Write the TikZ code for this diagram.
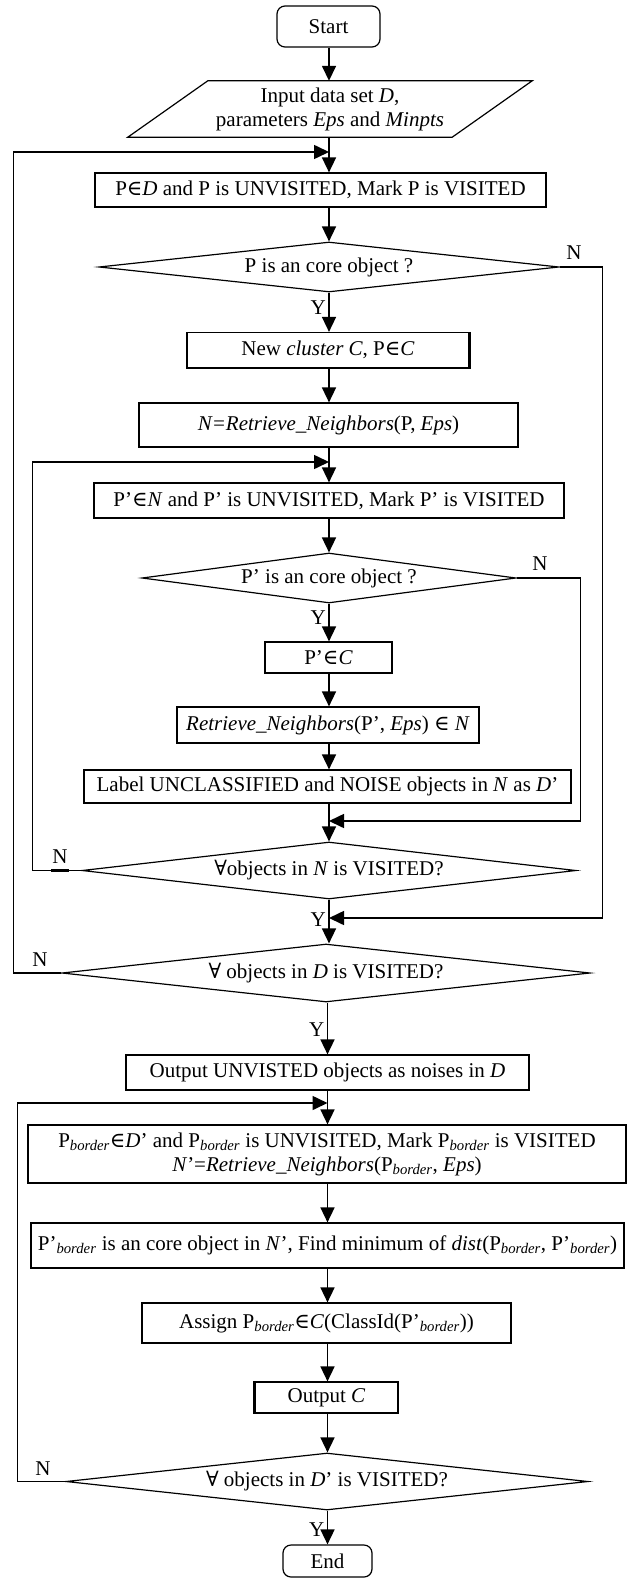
\documentclass[tikz,border=0pt]{standalone}
\usepackage{fontspec}
\setmainfont{Liberation Serif}
\newfontfamily\symf{DejaVu Serif}
\usetikzlibrary{arrows.meta,shapes.geometric,calc}
\newcommand\el{{\symf ∈}}
\newcommand\fa{{\symf ∀}}
\newcommand\pb{\textsubscript{\textit{border}}}
\newcommand\ffs{\fontsize{21}{24}\selectfont}
\begin{document}
\begin{tikzpicture}[x=1pt,y=-1pt,
  box/.style={draw, line width=1.2pt, inner sep=0pt, align=center, font=\ffs},
  term/.style={box, rounded corners=8pt},
  dec/.style={draw, diamond, line width=1.2pt, inner sep=0pt, aspect=9, align=center, font=\ffs},
  lab/.style={font=\ffs, inner sep=1pt},
  arr/.style={-{Triangle[length=15pt,width=14pt]}, line width=1.6pt},
  thick edge/.style={line width=2.6pt},
  ln/.style={line width=1.6pt}]
\useasboundingbox (0,0) rectangle (627,1578);
\coordinate (cx) at (329,0);
\coordinate (cy) at (327.5,0);

\node[term, minimum width=103, minimum height=41] (start) at (328.5,26.5) {Start};
\node[inner sep=0pt, minimum width=324, minimum height=56, align=center, font=\ffs] (inp) at (330,109)
  {Input data set \textit{D},\\parameters \textit{Eps} and \textit{Minpts}};
\draw[line width=1.2pt] ($(inp.south west)+(-40,0)$) -- ($(inp.north west)+(40,0)$)
  -- ($(inp.north east)+(40,0)$) -- ($(inp.south east)+(-40,0)$) -- cycle;
\node[box, minimum width=451, minimum height=34] (b1) at (320.5,190)
  {P\el\textit{D} and P is UNVISITED, Mark P is VISITED};
\node[dec, minimum width=460, minimum height=50] (d1) at (329,267) {P is an core object ?};
\node[box, minimum width=282, minimum height=35] (b2) at (328,350) {New \textit{cluster C}, P\el\textit{C}};
\draw[thick edge] (b2.north east) -- (b2.south east) -- (b2.south west);
\node[box, minimum width=379, minimum height=44] (b3) at (328.5,425)
  {\textit{N=Retrieve\_Neighbors}(P, \textit{Eps})};
\node[box, minimum width=470, minimum height=35] (b4) at (329,500.5)
  {P’\el\textit{N} and P’ is UNVISITED, Mark P’ is VISITED};
\node[dec, minimum width=374, minimum height=50] (d2) at (329,578) {P’ is an core object ?};
\node[box, minimum width=127, minimum height=31] (b5) at (328.5,657.5) {P’\el\textit{C}};
\node[box, minimum width=302, minimum height=36] (b6) at (328,725)
  {\textit{Retrieve\_Neighbors}(P’, \textit{Eps}) \el{} \textit{N}};
\node[box, minimum width=487, minimum height=33] (b7) at (327.5,786.5)
  {Label UNCLASSIFIED and NOISE objects in \textit{N} as \textit{D}’};
\node[dec, minimum width=494, minimum height=57] (d3) at (329,870.5) {\fa objects in \textit{N} is VISITED?};
\node[dec, minimum width=528, minimum height=58] (d4) at (326,973) {\fa{} objects in \textit{D} is VISITED?};
\node[box, minimum width=403, minimum height=35] (b8) at (327.5,1072.5)
  {Output UNVISTED objects as noises in \textit{D}};
\node[box, minimum width=598, minimum height=58] (b9) at (327,1154)
  {P\pb\el\textit{D}’ and P\pb{} is UNVISITED, Mark P\pb{} is VISITED\\
   \textit{N}’=\textit{Retrieve\_Neighbors}(P\pb, \textit{Eps})};
\node[box, minimum width=593, minimum height=45] (b10) at (327.5,1245.5)
  {P’\pb{} is an core object in \textit{N}’, Find minimum of \textit{dist}(P\pb, P’\pb)};
\node[box, minimum width=369, minimum height=40] (b11) at (326.5,1323)
  {Assign P\pb\el\textit{C}(ClassId(P’\pb))};
\node[box, minimum width=143, minimum height=31] (b12) at (326.5,1397.5) {Output \textit{C}};
\draw[thick edge] (b12.north west) -- (b12.south west);
\node[dec, minimum width=522, minimum height=57] (d5) at (327,1481.5) {\fa{} objects in \textit{D}’ is VISITED?};
\node[term, minimum width=89, minimum height=32] (end) at (327.5,1561) {End};

% junction points
\coordinate (j1) at (329,152);
\coordinate (j2) at (329,462);
\coordinate (j3) at (329,918);
\coordinate (j4) at (329,821);
\coordinate (j5) at (327.5,1103);

% main flow
\draw[arr] (start.south -| cx) -- (inp.north -| cx);
\draw[arr] (inp.south -| cx) -- (b1.north -| cx);
\draw[arr] (b1.south -| cx) -- (d1.north);
\draw[arr] (d1.south) -- (b2.north -| cx);
\draw[arr] (b2.south -| cx) -- (b3.north -| cx);
\draw[arr] (b3.south -| cx) -- (b4.north -| cx);
\draw[arr] (b4.south -| cx) -- (d2.north);
\draw[arr] (d2.south) -- (b5.north -| cx);
\draw[arr] (b5.south -| cx) -- (b6.north -| cx);
\draw[arr] (b6.south -| cx) -- (b7.north -| cx);
\draw[arr] (b7.south -| cx) -- (d3.north);
\draw[arr] (d3.south) -- (d4.north -| cx);
\draw[arr] (d4.south -| cy) -- (b8.north -| cy);
\draw[arr] (b8.south -| cy) -- (b9.north -| cy);
\draw[arr] (b9.south -| cy) -- (b10.north -| cy);
\draw[arr] (b10.south -| cy) -- (b11.north -| cy);
\draw[arr] (b11.south -| cy) -- (b12.north -| cy);
\draw[arr] (b12.south -| cy) -- (d5.north -| cy);
\draw[arr] (d5.south -| cy) -- (end.north -| cy);

% loops
\draw[arr] (d1.east) -- ++(43,0) |- (j3);
\draw[arr] (d2.east) -- ++(64,0) |- (j4);
\draw[arr] (d3.west) -- ++(-49,0) |- (j2);
\draw[arr] (d4.west) -- ++(-48,0) |- (j1);
\draw[arr] (d5.west) -- ++(-48,0) |- (j5);

% labels
\node[lab, anchor=east] (y1) at (327,308) {Y};
\node[lab, anchor=east] (y2) at (327,618) {Y};
\node[lab, anchor=east] (y3) at (327,920) {Y};
\node[lab, anchor=east] (y4) at (325.5,1030) {Y};
\node[lab, anchor=east] (y5) at (325.5,1530) {Y};
\node[lab] (n1) at (574,253) {N};
\node[lab] (n2) at (540,564) {N};
\node[lab] (n3) at (60,857) {N};
\node[lab] (n4) at (40,960) {N};
\node[lab] (n5) at (43,1469) {N};
% thick underline strokes beneath some N labels
\draw[thick edge] (n2.south west |- d2.east) -- (n2.south east |- d2.east);
\draw[thick edge] (n3.south west |- d3.west) -- (n3.south east |- d3.west);
\draw[thick edge] (n4.south west |- d4.west) -- (n4.south east |- d4.west);
\end{tikzpicture}
\end{document}
